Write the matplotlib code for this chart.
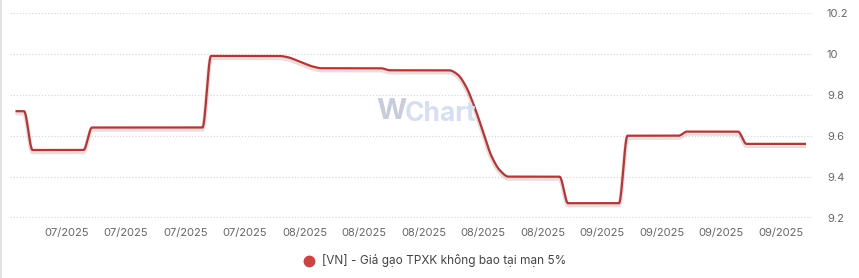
import numpy as np
import pandas as pd
import matplotlib
matplotlib.use("Agg")
import matplotlib.pyplot as plt
import matplotlib.dates as mdates
import matplotlib.patheffects as pe
from matplotlib.lines import Line2D

# ---------------- data ----------------
start_date = "2025-06-28"
prices = (
    [9.72] * 2 +
    [9.53] * 7 +
    [9.64] * 14 +
    [9.99] * 9 +
    [9.984, 9.97, 9.953, 9.938] +
    [9.93] * 8 +
    [9.92] * 8 +
    [9.90, 9.84, 9.74, 9.62, 9.50, 9.43] +
    [9.40] * 7 +
    [9.27] * 7 +
    [9.60] * 7 +
    [9.62] * 7 +
    [9.56] * 8
)
dates = pd.date_range(start_date, periods=len(prices), freq="D")
tick_dates = pd.date_range("2025-07-04", periods=13, freq="7D")
tick_labels = ["07/2025"] * 4 + ["08/2025"] * 5 + ["09/2025"] * 4
y_ticks = [9.2, 9.4, 9.6, 9.8, 10.0, 10.2]
y_tick_labels = ["9.2", "9.4", "9.6", "9.8", "10", "10.2"]
series_name = "[VN] - Giá gạo TPXK không bao tại mạn 5%"


def monotone_cubic(x, y, xs):
    x = np.asarray(x, float)
    y = np.asarray(y, float)
    h = np.diff(x)
    d = np.diff(y) / h
    n = len(x)
    m = np.zeros(n)
    m[0] = d[0]
    m[-1] = d[-1]
    for i in range(1, n - 1):
        if d[i - 1] * d[i] <= 0:
            m[i] = 0.0
        else:
            w1 = 2 * h[i] + h[i - 1]
            w2 = h[i] + 2 * h[i - 1]
            m[i] = (w1 + w2) / (w1 / d[i - 1] + w2 / d[i])
    idx = np.clip(np.searchsorted(x, xs) - 1, 0, n - 2)
    t = (xs - x[idx]) / h[idx]
    h00 = 2 * t**3 - 3 * t**2 + 1
    h10 = t**3 - 2 * t**2 + t
    h01 = -2 * t**3 + 3 * t**2
    h11 = t**3 - t**2
    return (h00 * y[idx] + h10 * h[idx] * m[idx] +
            h01 * y[idx + 1] + h11 * h[idx] * m[idx + 1])


plt.rcParams["font.family"] = ["Inter", "DejaVu Sans"]

W, H = 859, 278
fig = plt.figure(figsize=(W / 100, H / 100), dpi=100)
fig.patch.set_facecolor("white")

ax = fig.add_axes([10 / W, (H - 217.5) / H, (813 - 10) / W, (217.5 - 13) / H])
ax.set_facecolor("white")

xn = mdates.date2num(dates)
xs = np.linspace(xn[0], xn[-1], 3000)
ys = monotone_cubic(xn, prices, xs)

line_color = "#ad3a3b"
ax.plot(xs, ys, color=line_color, lw=1.6, solid_capstyle="butt", zorder=3,
        path_effects=[pe.SimpleLineShadow(offset=(0, -1.5), shadow_color="#e7a9a9",
                                          alpha=0.45, linewidth=3),
                      pe.Normal()])

ppd = 8.5  # pixels per day
left_days = (10 - 15.5) / ppd
right_days = (813 - 15.5) / ppd
ax.set_xlim(xn[0] + left_days, xn[0] + right_days)
ax.set_ylim(9.2, 10.2)

for yv in y_ticks:
    ax.axhline(yv, color="#d9d9d9", lw=0.9, ls=(0, (1, 1.5)), zorder=1)

for s in ax.spines.values():
    s.set_visible(False)

ax.set_xticks(mdates.date2num(tick_dates))
ax.set_xticklabels(tick_labels, fontsize=8, color="#666666")
ax.tick_params(axis="x", length=0, pad=7.5)

ax.yaxis.tick_right()
ax.set_yticks(y_ticks)
ax.set_yticklabels(y_tick_labels, fontsize=8, color="#666666", ha="left")
ax.tick_params(axis="y", length=0, pad=10)

# watermark
fig.text(376 / W, 1 - 112 / H, "W", fontsize=21, fontweight="bold",
         color="#c9ccdb", ha="left", va="center", zorder=0)
fig.text(405 / W, 1 - 114 / H, "Chart", fontsize=19, fontweight="bold",
         color="#d6def3", ha="left", va="center", zorder=0)

# legend
fig.add_artist(Line2D([309 / W], [1 - 260.5 / H], marker="o", markersize=7.5,
                      color="#c94444", lw=0, transform=fig.transFigure))
fig.text(321.5 / W, 1 - 260.5 / H, series_name, fontsize=8.5, color="#444444",
         ha="left", va="center")

# left border
fig.add_artist(Line2D([0.6 / W, 0.6 / W], [0, 1], color="#dddddd", lw=1.2,
                      transform=fig.transFigure))

fig.savefig("out.png", dpi=100, facecolor="white")
